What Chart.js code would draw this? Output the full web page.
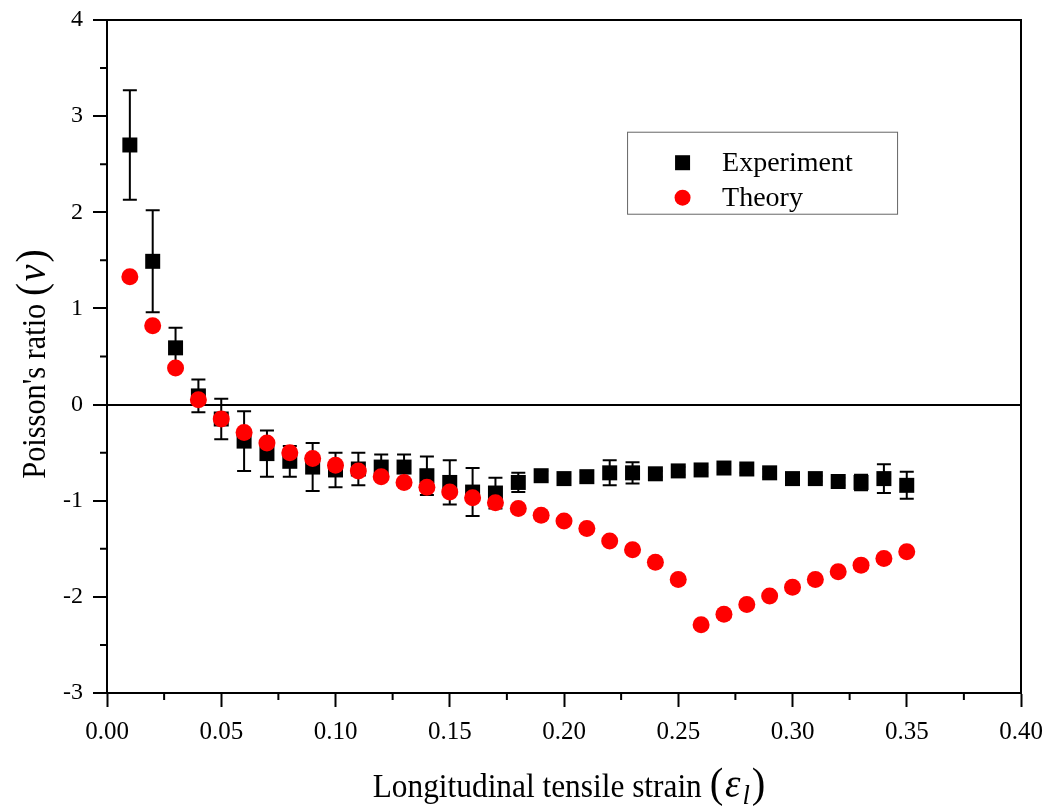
<!DOCTYPE html>
<html>
<head>
<meta charset="utf-8">
<title>Poisson's ratio vs strain</title>
<script src="https://cdn.jsdelivr.net/npm/chart.js@4.4.1/dist/chart.umd.min.js"></script>
<style>
    html, body { margin: 0; padding: 0; background: #fff; }
    #wrap { position: relative; width: 1054px; height: 810px; }
</style>
</head>
<body>
<div id="wrap"><canvas id="ratioChart" width="1054" height="810"></canvas></div>
<script>
// Datos
const strain = [0.01, 0.02, 0.03, 0.04, 0.05, 0.06, 0.07, 0.08, 0.09, 0.10,
    0.11, 0.12, 0.13, 0.14, 0.15, 0.16, 0.17, 0.18, 0.19, 0.20,
    0.21, 0.22, 0.23, 0.24, 0.25, 0.26, 0.27, 0.28, 0.29, 0.30,
    0.31, 0.32, 0.33, 0.34, 0.35];
const experiment = [2.70, 1.49, 0.59, 0.09, -0.15, -0.38, -0.51, -0.59, -0.65, -0.68,
    -0.67, -0.65, -0.65, -0.74, -0.81, -0.91, -0.92, -0.81, -0.74, -0.77,
    -0.75, -0.71, -0.71, -0.72, -0.69, -0.68, -0.66, -0.67, -0.71, -0.77,
    -0.77, -0.80, -0.81, -0.77, -0.84];
const experimentErr = [0.57, 0.53, 0.21, 0.17, 0.21, 0.31, 0.24, 0.16, 0.25, 0.18,
    0.17, 0.13, 0.13, 0.20, 0.23, 0.25, 0.16, 0.10, 0.05, 0.05,
    0.05, 0.13, 0.11, 0.03, 0.04, 0.03, 0.04, 0.04, 0.04, 0.04,
    0.03, 0.04, 0.08, 0.15, 0.14];
const theory = [1.33, 0.82, 0.38, 0.05, -0.15, -0.29, -0.40, -0.50, -0.56, -0.63,
    -0.69, -0.75, -0.81, -0.86, -0.91, -0.97, -1.02, -1.08, -1.15, -1.21,
    -1.29, -1.42, -1.51, -1.64, -1.82, -2.29, -2.18, -2.08, -1.99, -1.90,
    -1.82, -1.74, -1.67, -1.60, -1.53];
const seriesNames = ['Experiment', 'Theory'];
const xTicks = [0, 0.05, 0.10, 0.15, 0.20, 0.25, 0.30, 0.35, 0.40];
const yTicks = [-3, -2, -1, 0, 1, 2, 3, 4];
const xTitle = [
    { t: 'Longitudinal tensile strain ' },
    { t: '(', k: 1.3 },
    { t: 'ε', italic: true, k: 1.25 },
    { t: 'l', italic: true, k: 0.85, dy: 0.2 },
    { t: ')', k: 1.3 }
];
const yTitle = [
    { t: "Poisson's ratio " },
    { t: '(', k: 1.3 },
    { t: 'ν', italic: true, k: 1.25 },
    { t: ')', k: 1.3 }
];

const SERIF = "'Liberation Serif', 'Times New Roman', serif";

/**
 * Barras de error del experimento (sobre los cuadrados, bajo los círculos)
 */
const errorBars = {
    id: 'errorBars',
    afterDatasetDraw(chart, args) {
        if (args.meta.label !== seriesNames[0]) return;
        const { ctx, scales: { x, y } } = chart;
        ctx.save();
        ctx.strokeStyle = '#000';
        ctx.lineWidth = 2;
        strain.forEach((s, i) => {
            const px = x.getPixelForValue(s);
            const top = y.getPixelForValue(experiment[i] + experimentErr[i]);
            const bot = y.getPixelForValue(experiment[i] - experimentErr[i]);
            ctx.beginPath();
            ctx.moveTo(px, top); ctx.lineTo(px, bot);
            ctx.moveTo(px - 7, top); ctx.lineTo(px + 7, top);
            ctx.moveTo(px - 7, bot); ctx.lineTo(px + 7, bot);
            ctx.stroke();
        });
        ctx.restore();
    }
};

/**
 * Marco superior/derecho y marcas menores
 */
const frame = {
    id: 'frame',
    beforeDatasetsDraw(chart) {
        const { ctx, chartArea: a, scales: { x, y } } = chart;
        ctx.save();
        ctx.strokeStyle = '#000';
        ctx.lineWidth = 2;
        ctx.beginPath();
        ctx.moveTo(a.left, a.top); ctx.lineTo(a.right, a.top); ctx.lineTo(a.right, a.bottom);
        // marcas menores
        for (let i = 0; i < xTicks.length - 1; i++) {
            const px = x.getPixelForValue((xTicks[i] + xTicks[i + 1]) / 2);
            ctx.moveTo(px, a.bottom); ctx.lineTo(px, a.bottom + 7);
        }
        for (let i = 0; i < yTicks.length - 1; i++) {
            const py = y.getPixelForValue((yTicks[i] + yTicks[i + 1]) / 2);
            ctx.moveTo(a.left, py); ctx.lineTo(a.left - 7, py);
        }
        ctx.stroke();
        ctx.restore();
    }
};

/**
 * Títulos de ejes con partes en cursiva
 */
function drawTitle(ctx, parts, cx, baseY, angle, size, squeeze) {
    const fontOf = p => (p.italic ? 'italic ' : '') + (size * (p.k || 1)) + 'px ' + SERIF;
    const gap = 2;
    let total = 0;
    parts.forEach((p, i) => {
        ctx.font = fontOf(p);
        total += ctx.measureText(p.t).width + (i > 1 ? gap : 0);
    });
    ctx.save();
    ctx.translate(cx, baseY);
    ctx.rotate(angle);
    ctx.scale(squeeze, 1);
    ctx.fillStyle = '#000';
    ctx.textBaseline = 'alphabetic';
    let xPos = -total / 2;
    parts.forEach((p, i) => {
        if (i > 1) xPos += gap;
        ctx.font = fontOf(p);
        ctx.fillText(p.t, xPos, (p.dy || 0) * size);
        xPos += ctx.measureText(p.t).width;
    });
    ctx.restore();
}

const axisTitles = {
    id: 'axisTitles',
    afterDraw(chart) {
        const { ctx, chartArea: a } = chart;
        drawTitle(ctx, xTitle, 569, 797, 0, 33, 0.95);
        drawTitle(ctx, yTitle, 45, 364, -Math.PI / 2, 33, 0.92);
    }
};

/**
 * Leyenda dentro del área
 */
const insetLegend = {
    id: 'insetLegend',
    afterDraw(chart) {
        const { ctx, chartArea: a } = chart;
        const w = a.right - a.left, h = a.bottom - a.top;
        const bx = a.left + w * 0.569, by = a.top + h * 0.166;
        const bw = 270, bh = 82;
        ctx.save();
        ctx.strokeStyle = '#666';
        ctx.lineWidth = 1;
        ctx.strokeRect(bx + 0.5, by + 0.5, bw, bh);
        const ds = chart.data.datasets;
        const rows = [by + 31, by + 66];
        ctx.font = '28px ' + SERIF;
        ctx.textBaseline = 'middle';
        seriesNames.forEach((name, i) => {
            const d = ds.find(s => s.label === name);
            ctx.fillStyle = d.backgroundColor;
            if (d.pointStyle === 'rect') {
                ctx.fillRect(bx + 48, rows[i] - 7.5, 15, 15);
            } else {
                ctx.beginPath();
                ctx.arc(bx + 55.5, rows[i], 8, 0, Math.PI * 2);
                ctx.fill();
            }
            ctx.fillStyle = '#000';
            ctx.fillText(name, bx + 95, rows[i] + 1);
        });
        ctx.restore();
    }
};

const toPoints = vals => strain.map((s, i) => ({ x: s, y: vals[i] }));

new Chart(document.getElementById('ratioChart'), {
    type: 'scatter',
    data: {
        datasets: [
            {
                label: seriesNames[1],
                data: toPoints(theory),
                pointStyle: 'circle',
                pointRadius: 8.5,
                pointHoverRadius: 8.5,
                backgroundColor: '#ff0000',
                borderWidth: 0,
                order: 0
            },
            {
                label: seriesNames[0],
                data: toPoints(experiment),
                pointStyle: 'rect',
                pointRadius: 10.6,
                pointHoverRadius: 10.6,
                backgroundColor: '#000000',
                borderWidth: 0,
                order: 1
            }
        ]
    },
    options: {
        responsive: false,
        animation: false,
        layout: { padding: { top: 20, right: 33, left: 0, bottom: 0 } },
        plugins: {
            legend: { display: false },
            tooltip: { enabled: false }
        },
        scales: {
            x: {
                type: 'linear',
                min: 0,
                max: 0.4,
                afterFit: (scale) => {
                    scale.height = 117;
                    scale.paddingLeft = 0;
                    scale.paddingRight = 0;
                },
                afterBuildTicks: (scale) => { scale.ticks = xTicks.map(v => ({ value: v })); },
                ticks: {
                    color: '#000',
                    font: { family: SERIF, size: 25 },
                    padding: 10,
                    maxRotation: 0,
                    callback: v => v.toFixed(2)
                },
                grid: {
                    color: 'transparent',
                    tickColor: '#000',
                    tickLength: 14,
                    tickWidth: 2
                },
                border: { display: true, color: '#000', width: 2 }
            },
            y: {
                type: 'linear',
                min: -3,
                max: 4,
                afterFit: (scale) => {
                    scale.width = 107;
                    scale.paddingTop = 0;
                    scale.paddingBottom = 0;
                },
                afterBuildTicks: (scale) => { scale.ticks = yTicks.map(v => ({ value: v })); },
                ticks: {
                    color: '#000',
                    font: { family: SERIF, size: 24 },
                    padding: 10
                },
                grid: {
                    color: (c) => (c.tick && c.tick.value === 0 ? '#000' : 'transparent'),
                    lineWidth: 2,
                    tickColor: '#000',
                    tickLength: 14,
                    tickWidth: 2
                },
                border: { display: true, color: '#000', width: 2 }
            }
        }
    },
    plugins: [frame, errorBars, axisTitles, insetLegend]
});
</script>
</body>
</html>
